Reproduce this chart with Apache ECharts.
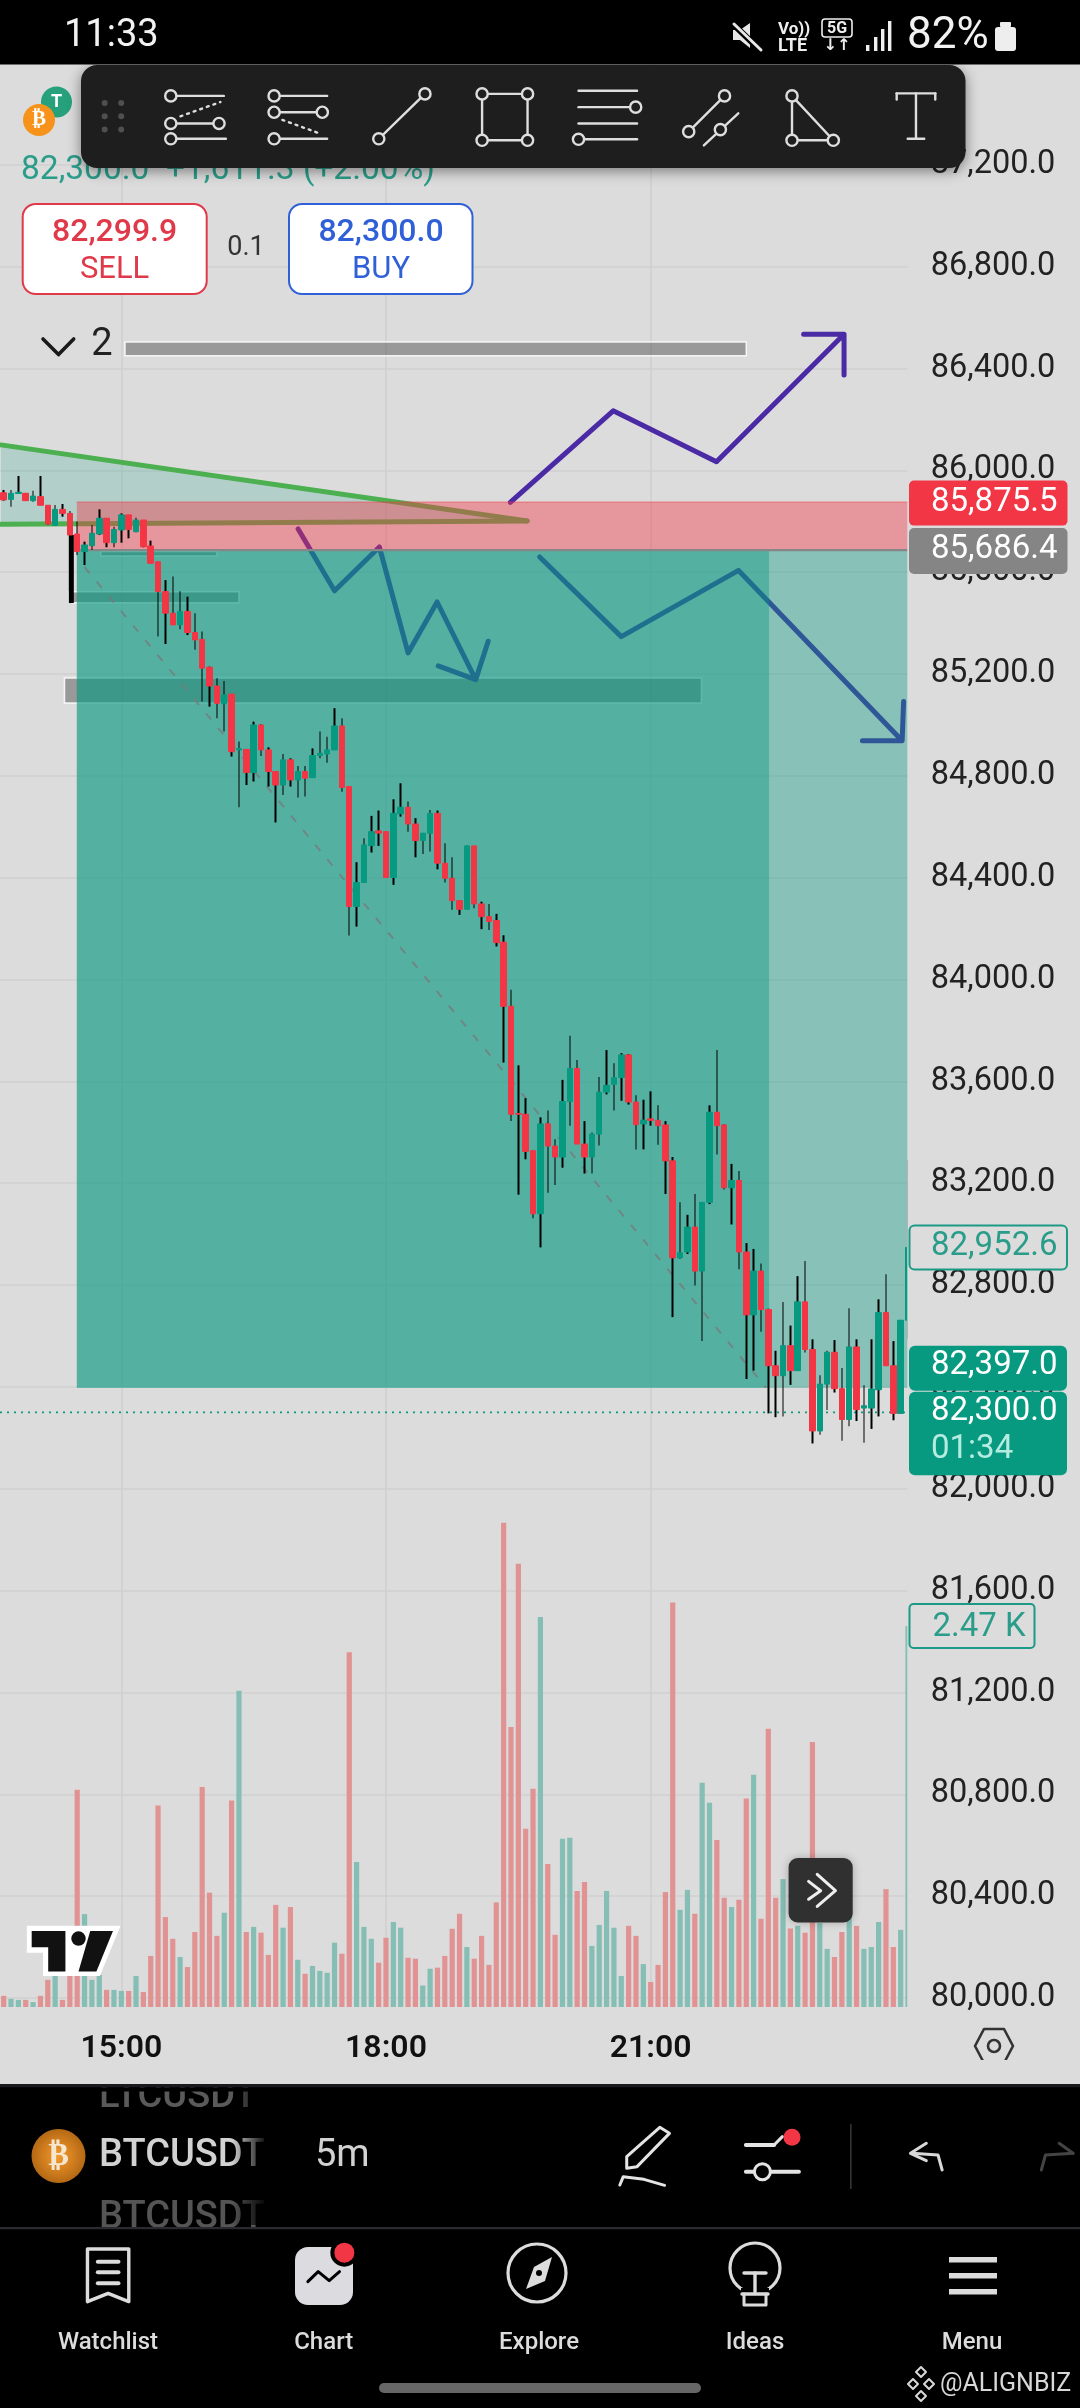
<!DOCTYPE html>
<html><head><meta charset="utf-8"><style>html,body{margin:0;padding:0;background:#dcdcdc}#c{width:1080px;height:2408px}</style>
<script src="https://cdn.jsdelivr.net/npm/echarts@6/dist/echarts.min.js"></script></head><body><div id="c"></div>
<script>
const tickLabels=['15:00','18:00','21:00'];
const opens=[85912,85886,85909,85910,85881,85897,85863,85784,85847,85831,85750,85681,85704,85750,85812,85716,85766,85825,85759,85805,85703,85641,85524,85439,85393,85446,85363,85336,85227,85153,85083,85121,84902,84904,84813,85000,84902,84817,84764,84863,84784,84817,84793,84880,84886,84902,84996,84758,84287,84381,84526,84584,84581,84401,84651,84677,84611,84546,84575,84653,84457,84398,84310,84276,84525,84297,84247,84232,84147,83895,83474,83471,83328,83080,83433,83346,83303,83521,83651,83354,83303,83393,83558,83588,83615,83704,83519,83433,83453,83447,83429,83288,82907,82930,83028,82855,83125,83479,83429,83182,83211,82930,82683,82855,82704,82483,82444,82562,82464,82734,82547,82227,82411,82536,82393,82272,82557,82317,82317,82389,82692,82483,82296,82662];
const closes=[85884,85910,85914,85881,85899,85863,85789,85847,85831,85746,85681,85707,85753,85812,85716,85768,85825,85768,85805,85700,85635,85524,85439,85393,85446,85363,85334,85223,85153,85085,85118,84895,84907,84813,85000,84902,84817,84764,84863,84784,84817,84791,84880,84889,84902,84996,84754,84287,84381,84529,84581,84575,84401,84653,84677,84611,84546,84575,84653,84457,84398,84310,84276,84525,84297,84247,84228,84145,83895,83471,83471,83325,83080,83433,83346,83303,83521,83651,83354,83303,83393,83558,83585,83615,83704,83519,83430,83448,83447,83426,83288,82907,82927,83028,82855,83125,83479,83426,83182,83211,82930,82683,82855,82704,82483,82444,82562,82464,82734,82547,82227,82411,82536,82393,82272,82557,82311,82326,82392,82692,82483,82296,82662,82948];
const highs=[85923,85923,85978,85910,85920,85978,85863,85864,85868,85840,85799,85720,85785,85847,85812,85779,85831,85825,85814,85805,85724,85641,85569,85583,85525,85504,85439,85367,85229,85183,85173,85121,84935,84904,85013,85004,84912,84817,84886,84869,84839,84839,84908,84974,84954,85066,85026,84758,84461,84555,84643,84664,84581,84708,84771,84699,84634,84575,84666,84664,84535,84480,84310,84527,84525,84306,84297,84258,84174,83960,83663,83534,83328,83459,83486,83373,83606,83779,83684,83444,83399,83617,83723,83671,83711,83707,83546,83528,83561,83506,83444,83303,83125,83076,83158,83125,83506,83723,83433,83276,83248,82965,82942,82885,82707,82542,82734,82641,82835,82895,82587,82446,82542,82584,82474,82709,82587,82407,82587,82744,82843,82580,82662,83291];
const lows=[85881,85857,85909,85881,85877,85863,85785,85782,85818,85478,85668,85628,85687,85746,85698,85698,85716,85733,85757,85698,85635,85347,85318,85393,85376,85353,85295,85092,85072,85026,84974,84876,84677,84764,84778,84878,84758,84617,84725,84758,84715,84719,84793,84869,84852,84902,84738,84173,84208,84381,84499,84525,84401,84372,84640,84581,84480,84493,84503,84433,84381,84274,84254,84276,84280,84198,84195,84130,83674,83444,83155,83294,83062,82948,83163,83193,83261,83426,83354,83238,83238,83348,83549,83486,83524,83509,83333,83333,83426,83351,83158,82674,82903,82922,82798,82580,83118,83313,83175,83038,82862,82431,82464,82617,82296,82281,82284,82408,82464,82535,82178,82212,82309,82378,82189,82246,82266,82181,82235,82284,82483,82269,82296,82587];
const volumes=[72,53,46,46,32,72,176,255,46,301,1408,602,176,208,111,111,104,104,201,97,331,1306,583,442,324,259,486,1426,741,461,611,1338,2049,486,519,482,338,662,514,648,306,215,266,234,222,417,345,2299,940,519,442,287,449,551,514,319,313,139,248,255,331,507,604,389,313,461,273,678,3139,1815,2873,1155,1414,2528,926,468,1090,1097,752,810,396,532,752,514,201,526,461,278,162,273,745,2621,630,759,604,1454,1324,1083,708,648,695,1352,1505,572,1803,708,829,509,526,482,1718,544,377,324,486,579,526,377,389,551,764,389,500,2470];
// drawings as [bar index, price]
const wedgeFill=[[-0.37,86100],[71.2,85801],[-0.37,85788]];
const wedgeTop=[[-0.37,86100],[71.2,85801]];
const wedgeBottom=[[-0.37,85788],[71.2,85801]];
const arrowUp=[[68.9,85874],[82.9,86234],[96.95,86034],[114.3,86535],[108.8,86535],[114.3,86535],[114.3,86375]];
const arrowMid=[[40.05,85770],[45,85527],[51.1,85699],[55,85283],[58.95,85483],[64.2,85178],[59.1,85232],[64.2,85178],[65.9,85329]];
const arrowRight=[[72.9,85660],[84,85347],[99.95,85607],[122.2,84938],[116.8,84938],[122.2,84938],[122.4,85092]];
const pathDiagonal=[[11,85620],[103.7,82397]];
const bands=[[16.5,101,86504,86450],[8.27,94.9,85184,85086],[8.87,32,85523,85480],[13.2,29,85681,85664]];
const profitZones=[[9.95,123.5,85686.4,82397],[9.95,104.1,85686.4,82397]];
const riskZones=[[9.95,123.5,85875.5,85686.4]];
const lastPrice=[[-0.5,82300],[123.5,82300]];
const heavyWick=[[9.2,85746],[9.2,85479]];

const categories=opens.map((_,i)=>{const m=13*60+40+i*5;return String(Math.floor(m/60)).padStart(2,'0')+':'+String(m%60).padStart(2,'0')});
const isTick=(i,v)=>tickLabels.includes(v);
const BG='#dcdcdc',UP='#089981',DOWN='#f23645';
const fmt=v=>v.toLocaleString('en-US',{minimumFractionDigits:1,maximumFractionDigits:1});
const chart=echarts.init(document.getElementById('c'));

function rectSeries(name,data,fill,stroke,z){return{name,type:'custom',xAxisIndex:1,yAxisIndex:0,z,silent:true,clip:true,data,
 encode:{x:[0,1],y:[2,3]},
 renderItem:(p,api)=>{const a=api.coord([api.value(0),api.value(2)]),b=api.coord([api.value(1),api.value(3)]);
  return{type:'rect',shape:{x:a[0],y:a[1],width:b[0]-a[0],height:b[1]-a[1]},style:{fill,stroke:stroke||null,lineWidth:stroke?1.5:0}}}}}
function lineSeries(name,data,color,width,z,extra){return{name,type:'line',xAxisIndex:1,yAxisIndex:0,data,z,silent:true,showSymbol:false,symbol:'none',animation:false,
 lineStyle:Object.assign({color,width,cap:'round',join:'round'},extra||{})}}

const series=[
 {name:'wedge fill',type:'custom',xAxisIndex:1,yAxisIndex:0,z:1,silent:true,data:[[0,85900]],encode:{x:0,y:1},
  renderItem:(p,api)=>({type:'polygon',shape:{points:wedgeFill.map(q=>api.coord(q))},style:{fill:'rgba(8,153,129,0.2)'}})},
 lineSeries('wedge top',wedgeTop,'#4caf50',5,1),
 lineSeries('wedge bottom',wedgeBottom,'#4caf50',5,1),
 rectSeries('bands',bands,'rgba(70,70,70,0.45)','rgba(255,255,255,0.85)',1),
 lineSeries('arrow up',arrowUp,'#4a2aa5',5,1),
 lineSeries('arrow mid',arrowMid,'#4a2aa5',5,1),
 lineSeries('arrow right',arrowRight,'#4a2aa5',5,1),
 rectSeries('risk',riskZones,'rgba(242,54,69,0.42)',null,2),
 rectSeries('profit',profitZones,'rgba(8,153,129,0.4)',null,2),
 lineSeries('path',pathDiagonal,'rgba(120,120,120,0.75)',2,3,{type:[8,11],cap:'butt'}),
 lineSeries('last price',lastPrice,UP,1.6,3,{type:[2,5],cap:'butt'}),
 lineSeries('level',[[9.95,85686.4],[123.5,85686.4]],'#868686',2.2,3,{cap:'butt'}),
 lineSeries('level top',[[9.95,85875.5],[123.5,85875.5]],'rgba(242,54,69,0.35)',1.5,3,{cap:'butt'}),
 lineSeries('heavy wick',heavyWick,'#000',5,4,{cap:'butt'}),
 {name:'wicks',type:'candlestick',xAxisIndex:0,yAxisIndex:0,z:5,silent:true,barWidth:2,
  data:opens.map((_,i)=>[lows[i],highs[i],lows[i],highs[i]]),
  itemStyle:{color:'#000',color0:'#000',borderColor:'#000',borderColor0:'#000',borderWidth:0}},
 {name:'bodies',type:'candlestick',xAxisIndex:0,yAxisIndex:0,z:6,silent:true,barWidth:6,
  data:opens.map((o,i)=>[o,closes[i],Math.min(o,closes[i]),Math.max(o,closes[i])]),
  itemStyle:{color:UP,color0:DOWN,borderColor:UP,borderColor0:DOWN,borderWidth:1}},
 {name:'volume',type:'bar',xAxisIndex:2,yAxisIndex:1,z:1,silent:true,barWidth:5.2,
  data:volumes.map((v,i)=>({value:v,itemStyle:{color:closes[i]>=opens[i]?'#85beb4':'#e19393'}}))}
];

// ---- phone UI / overlays ----
const G=[];
const T=(text,x,y,font,fill,align,z)=>G.push({type:'text',z:z||100,silent:true,style:{text,x,y,font,fill,textAlign:align||'left',textVerticalAlign:'middle'}});
const R=(x,y,w,h,fill,r,stroke,lw,z,extra)=>G.push({type:'rect',z:z||100,silent:true,shape:{x,y,width:w,height:h,r:r||0},style:Object.assign({fill,stroke:stroke||null,lineWidth:lw||0},extra||{})});
const C=(cx,cy,r,fill,stroke,lw,z)=>G.push({type:'circle',z:z||100,silent:true,shape:{cx,cy,r},style:{fill:fill||'none',stroke:stroke||null,lineWidth:lw||0}});
const PL=(points,stroke,lw,z,dash)=>G.push({type:'polyline',z:z||100,silent:true,shape:{points},style:{fill:'none',stroke,lineWidth:lw,lineCap:'round',lineJoin:'round',lineDash:dash||null}});
const PG=(points,fill,stroke,lw,z)=>G.push({type:'polygon',z:z||100,silent:true,shape:{points},style:{fill,stroke:stroke||null,lineWidth:lw||0,lineJoin:'round'}});
const a=(X,Y)=>[X/1.452,Y/1.96];
const b=(X,Y)=>[X/1.452,2040+Y/3];
const c5=(X,Y)=>[X/2.904,1500+Y/2.8];
const c6=(X,Y)=>[540+X/2.904,1500+Y/2.8];
const F='Roboto';

R(907.3,60,8,1950,BG,0,null,0,50);

// price text beneath toolbar
T('82,300.0  +1,611.3 (+2.00%)',21,171,'400 33.5px '+F,'#2a9d8a','left',101);
// coin icons
C(56.5,102,15.5,'#26a17b',null,0,101); T('T',56.5,102,'700 18px '+F,'#fff','center',101);
C(39,120,16,'#f7931a',null,0,102); T('₿',39,120,'700 21px DejaVu Sans','#fff','center',102);
// toolbar
R(81,65,884.5,103,'#1e1e1e',16,null,0,103,{shadowBlur:14,shadowColor:'rgba(0,0,0,0.45)',shadowOffsetY:3});
const ic='#dedede';
const Z=104;
[[152,202],[176,202],[152,228],[176,228],[152,254],[176,254]].forEach(p=>{const q=a(p[0],p[1]);C(q[0],q[1],3,'#4f4f4f',null,0,Z)});
const cir=(X,Y)=>{const q=a(X,Y);C(q[0],q[1],5.6,'#1e1e1e',ic,2.4,Z+1)};
const ln=(x1,y1,x2,y2,dash)=>PL([a(x1,y1),a(x2,y2)],ic,2.4,Z,dash);
ln(248,188,325,188);ln(262,228,320,200,[2,5]);ln(248,242,318,242);ln(248,272,328,272);cir(248,188);cir(248,242);cir(318,242);cir(248,272);
ln(398,188,475,188);ln(398,220,468,220);ln(410,235,465,262,[2,5]);ln(398,272,475,272);cir(398,188);cir(398,220);cir(468,220);cir(398,272);
ln(550,272,617,184);cir(550,272);cir(617,184);
ln(700,184,766,184);ln(700,275,766,275);ln(700,184,700,275);ln(766,184,766,275);cir(700,184);cir(766,184);cir(700,275);cir(766,275);
ln(840,178,925,178);ln(840,210,915,210);ln(840,242,925,242);ln(840,273,925,273);cir(923,210);cir(840,273);
ln(1000,258,1052,188);ln(1022,285,1072,222);cir(1000,258);cir(1052,188);cir(1046,254);
ln(1150,188,1150,275);ln(1150,188,1210,275);ln(1150,275,1210,275);cir(1150,188);cir(1150,275);cir(1210,275);
ln(1302,183,1358,183);ln(1302,183,1302,195);ln(1358,183,1358,195);ln(1330,183,1330,272);ln(1318,272,1342,272);

// sell / buy
R(22.7,204,184,90,'#fff',13,'#e0394a',2);
T('82,299.9',114.6,232.5,'500 32px '+F,'#e0394a','center');
T('SELL',114.6,270,'400 31px '+F,'#e0394a','center');
T('0.1',246,248,'400 27px '+F,'#333','center');
R(289,204,183.5,90,'#fff',13,'#3060d8',2);
T('82,300.0',381,232.5,'500 32px '+F,'#3060d8','center');
T('BUY',381,270,'400 31px '+F,'#3060d8','center');
PL([[43,339],[58.5,354.6],[73.7,339]],'#1a1a1a',3.6);
T('2',102,345,'400 38px '+F,'#222','center');

// price badges
R(909,480.6,158.5,45,DOWN,5);T('85,875.5',931,503,'400 33px '+F,'#fff');
R(909,528,158.5,46,'#858585',5);T('85,686.4',931,550,'400 33px '+F,'#fff');
R(909.5,1225.5,157.5,44,BG,5,'#1d9a86',2);T('82,952.6',931,1246.5,'400 33px '+F,'#2a9d8a');
R(909,1345.7,158,45,UP,6);T('82,397.0',931,1365.5,'400 33px '+F,'#fff');
R(909,1391.7,158,83.5,UP,6);T('82,300.0',931,1412,'400 33px '+F,'#fff');T('01:34',931,1450,'400 33px '+F,'#b5ece0');
R(909.5,1604,125,44,BG,4,'#1d9a86',2);T('2.47 K',932.5,1628,'400 33px '+F,'#2a9d8a');

// chevron button
R(788.6,1858,64.1,64.5,'#303030',9,null,0,100,{shadowBlur:8,shadowColor:'rgba(0,0,0,0.25)'});
PL([c6(805,1048),c6(858,1094),c6(805,1138)],'#eee',3);
PL([c6(780,1068),c6(815,1094),c6(780,1118)],'#eee',3);
// settings hexagon
PG([[975,2046],[984,2029],[1004,2029],[1013,2046],[1004,2063],[984,2063]],'none','#333',2.6);
C(994,2046,6,'none','#333',2.6);
// TV logo
PG([c5(78,1192),c5(350,1192),c5(290,1333),c5(125,1333),c5(125,1268),c5(78,1268)],'#fff');
PG([c5(92,1207),c5(190,1207),c5(190,1320),c5(140,1320),c5(140,1252),c5(92,1252)],'#111');
C(...c5(228,1228),7.2,'#111');
PG([c5(262,1207),c5(328,1207),c5(280,1320),c5(228,1320)],'#111');

// status bar
R(0,0,1080,64.5,'#000',0,null,0,110);
T('11:33',64,36,'400 38px '+F,'#f2f2f2','left',111);
PG([[733,30],[740,30],[750,23],[750,48],[740,40],[733,40]],'#e8e8e8',null,0,111);
PL([[733,24],[761,51]],'#000',6,111);PL([[734,24],[761,50]],'#e8e8e8',3,112);
T('Vo))',778,30,'700 17px '+F,'#eee','left',111);T('LTE',778,46,'700 18px '+F,'#eee','left',111);
R(822,19,30,18,'none',3,'#eee',1.6,111);T('5G',837,28.5,'700 16px '+F,'#eee','center',111);T('↓↑',837,46,'700 16px DejaVu Sans','#eee','center',111);
[[866,6],[874,14],[881,22],[888,30]].forEach(s=>R(s[0],51-s[1],3.4,s[1],'#eee',0,null,0,111));
T('82%',907,37,'400 44px '+F,'#f2f2f2','left',111);
R(995,27,21,24,'#eee',3,null,0,111);R(1000,22,11,5,'#eee',1,null,0,111);

// bottom panels
R(0,2084,1080,324,'#000',0,null,0,110);
T('LTCUSDT',99,2097,'500 38px '+F,'#5a5a5a','left',111);
T('BTCUSDT',99,2156,'500 38px '+F,'#d2d2d2','left',111);
T('BTCUSDT',99,2218,'500 38px '+F,'#555','left',111);
R(0,2060,1080,24,BG,0,null,0,112);
R(0,2084,1080,3.5,'#1a1a1e',0,null,0,113);
R(0,2087.5,1080,4,'#000',0,null,0,113);
R(232,2090,36,135,new echarts.graphic.LinearGradient(0,0,1,0,[{offset:0,color:'rgba(0,0,0,0)'},{offset:1,color:'#000'}]),0,null,0,113);
R(0,2227,1080,2.6,'#2a2a30',0,null,0,113);
R(0,2229.6,1080,4,'#000',0,null,0,113);
C(58.5,2156,27,new echarts.graphic.RadialGradient(.5,.5,.6,[{offset:0,color:'#f59a2c'},{offset:1,color:'#a85f10'}]),null,0,111);
T('₿',58.5,2157,'700 31px DejaVu Sans','#f5e6d0','center',112);
T('5m',315,2156,'400 38px '+F,'#d2d2d2','left',111);
// pencil
PG([b(958,262),b(972,280),b(925,380),b(910,385),b(910,350)],'none','#e4e4e4',3,111);
PL([b(900,435),b(905,410),b(935,418),b(965,436)],'#e4e4e4',3,111);
// sliders
PL([b(1083,315),b(1124,315)],'#e4e4e4',4,111);PL([b(1124,315),b(1136,290)],'#e4e4e4',3,111);
C(...b(1150,292),8.5,DOWN,null,0,112);
PL([b(1083,395),b(1160,395)],'#e4e4e4',4,111);C(...b(1107,395),8,'#000','#e4e4e4',3,112);
R(850,2124,1.6,65,'#333',0,null,0,111);
// undo/redo
PL([b(1345,310),b(1322,340),b(1345,362)],'#d8d8d8',3,111);PL([b(1325,340),b(1362,345),b(1368,390)],'#d8d8d8',3,111);
PL([b(1538,310),b(1558,340)],'#444',3,111);PL([b(1558,340),b(1518,345),b(1512,390)],'#444',3,111);
// nav labels
[['Watchlist',108],['Chart',323.7],['Explore',539],['Ideas',755],['Menu',972]].forEach(n=>T(n[0],n[1],2343,'500 24px '+F,'#dcdcdc','center',111));
// watchlist icon
PG([b(127,627),b(187,627),b(187,785),b(157,760),b(127,785)],'none','#dcdcdc',3.4,111);
[665,697,730].forEach(Y=>PL([b(142,Y),b(172,Y)],'#dcdcdc',4,111));
// chart icon
R(295,2247,58,58,'#dcdce0',13,null,0,111);
PL([b(447,725),b(462,695),b(478,722),b(493,695)],'#000',3,112);
C(...b(500,638),14,'#000',null,0,112);C(...b(500,638),10,DOWN,null,0,113);
// explore icon
C(537,2273,29,'none','#dcdcdc',3.2,111);
PG([[552,2257],[545,2281],[526,2289],[534,2267]],'#dcdcdc',null,0,111);C(539,2273,3,'#000',null,0,112);
// ideas icon
C(755,2268,25,'none','#dcdcdc',3.2,111);
PL([[744,2273],[766,2273]],'#dcdcdc',3.4,112);PL([[755,2273],[755,2292]],'#dcdcdc',3.4,112);
R(741,2288,28,18,'#000',0,null,0,111);
PL([[742,2294],[768,2294]],'#dcdcdc',3.4,112);PL([[744,2294],[744,2305],[766,2305],[766,2294]],'#dcdcdc',3,112);
// menu icon
[2257,2273,2289].forEach(y=>R(949,y,48,5.5,'#dcdcdc',0,null,0,111));
R(379,2383,322,10,'#666',5,null,0,111);
T('@ALIGNBIZ',940,2385,'400 25px '+F,'#d8d8d8','left',112);
[[921,2372],[913,2384],[929,2384],[921,2396]].forEach(d=>PG([[d[0],d[1]-5],[d[0]+5,d[1]],[d[0],d[1]+5],[d[0]-5,d[1]]],'none','#d8d8d8',2,112));

chart.setOption({
 animation:false,backgroundColor:BG,
 grid:[{left:-0.94,top:63,width:912.64,height:1934.96,containLabel:false},{left:-0.94,top:63,width:912.64,height:1944,containLabel:false}],
 xAxis:[
  {type:'category',gridIndex:0,data:categories,show:false},
  {type:'value',gridIndex:0,min:-0.5,max:123.5,show:false},
  {type:'category',gridIndex:1,data:categories,boundaryGap:true,axisLine:{show:false},axisTick:{show:false},
   axisLabel:{interval:isTick,margin:26,color:'#111',fontFamily:F,fontWeight:600,fontSize:32},
   splitLine:{show:true,interval:isTick,alignWithLabel:true,lineStyle:{color:'#cfcfcf',width:1.5}}}
 ],
 yAxis:[
  {type:'value',gridIndex:0,position:'right',min:80000,max:87600,interval:400,scale:true,axisLine:{show:false},axisTick:{show:false},
   axisLabel:{margin:19,align:'left',color:'#222',fontFamily:F,fontSize:32.5,padding:[0,0,7,0],formatter:fmt,showMaxLabel:false},
   splitLine:{show:true,lineStyle:{color:'#d0d0d0',width:1.5}}},
  {type:'value',gridIndex:1,min:0,max:12599,show:false}
 ],
 series,graphic:{elements:G}
});
</script></body></html>
